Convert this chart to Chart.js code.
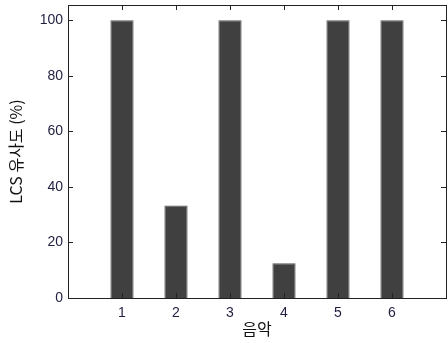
<!DOCTYPE html>
<html>
<head>
<meta charset="utf-8">
<script src="https://cdn.jsdelivr.net/npm/chart.js@4"></script>
<style>
  html, body { margin: 0; padding: 0; background: #fff; }
  #wrap { width: 448px; height: 343px; }
</style>
</head>
<body>
<div id="wrap"><canvas id="barchart" width="448" height="343"></canvas></div>
<script>
const categories = [1, 2, 3, 4, 5, 6];
const similarity = [100, 33.3, 100, 12.5, 100, 100];
const yTicks = [0, 20, 40, 60, 80, 100];

const tickColor = '#1f1f3f';
const axisFont = { family: 'Arial, "Liberation Sans", sans-serif', size: 14 };
const korFont = { family: '"Noto Sans CJK KR", sans-serif', size: 16 };

// MATLAB style box with ticks pointing inwards
const boxTicks = {
    id: 'boxTicks',
    afterDraw(chart) {
        const { ctx, chartArea: a, scales } = chart;
        const len = 5;
        ctx.save();
        ctx.strokeStyle = '#222';
        ctx.lineWidth = 1;
        ctx.beginPath();
        scales.x.ticks.forEach(t => {
            const px = Math.round(scales.x.getPixelForValue(t.value)) + 0.5;
            ctx.moveTo(px, a.top); ctx.lineTo(px, a.top + len);
            ctx.moveTo(px, a.bottom); ctx.lineTo(px, a.bottom - len);
        });
        scales.y.ticks.forEach(t => {
            const py = Math.round(scales.y.getPixelForValue(t.value)) + 0.5;
            ctx.moveTo(a.left, py); ctx.lineTo(a.left + len, py);
            ctx.moveTo(a.right, py); ctx.lineTo(a.right - len, py);
        });
        ctx.stroke();
        ctx.strokeRect(Math.round(a.left) + 0.5, Math.round(a.top) + 0.5,
            Math.round(a.right - a.left), Math.round(a.bottom - a.top));
        ctx.restore();
    }
};

new Chart(document.getElementById('barchart'), {
    type: 'bar',
    data: {
        datasets: [
            {
                data: categories.map((c, i) => ({ x: c, y: similarity[i] })),
                backgroundColor: '#404040',
                borderColor: '#555555',
                borderWidth: 1,
                barPercentage: 0.43,
                categoryPercentage: 1.0,
            },
        ],
    },
    plugins: [boxTicks],
    options: {
        responsive: false,
        animation: false,
        layout: { padding: { top: 5, right: 2, left: 0, bottom: 0 } },
        scales: {
            x: {
                type: 'linear',
                offset: false,
                min: 0,
                max: 7,
                grid: { display: false, drawTicks: false, offset: false },
                border: { display: false },
                afterBuildTicks: function (axis) {
                    axis.ticks = categories.map(v => ({ value: v }));
                },
                afterFit: function (axis) {
                    axis.height = 45;
                    axis.paddingLeft = 0;
                    axis.paddingRight = 0;
                },
                ticks: { color: tickColor, font: axisFont, padding: 7, maxRotation: 0 },
                title: { display: true, text: '음악', color: '#111', font: korFont, padding: { top: 0, bottom: 4 } },
            },
            y: {
                min: 0,
                max: 105.5,
                grid: { display: false, drawTicks: false },
                border: { display: false },
                afterBuildTicks: function (axis) {
                    axis.ticks = yTicks.map(v => ({ value: v }));
                },
                afterFit: function (axis) {
                    axis.width = 68;
                    axis.paddingTop = 0;
                    axis.paddingBottom = 0;
                },
                ticks: { color: tickColor, font: axisFont, padding: 5 },
                title: { display: true, text: 'LCS 유사도 (%)', color: '#111', font: korFont, padding: { top: 6, bottom: 4 } },
            },
        },
        plugins: {
            legend: { display: false },
            tooltip: { enabled: false },
        },
    },
});
</script>
</body>
</html>
